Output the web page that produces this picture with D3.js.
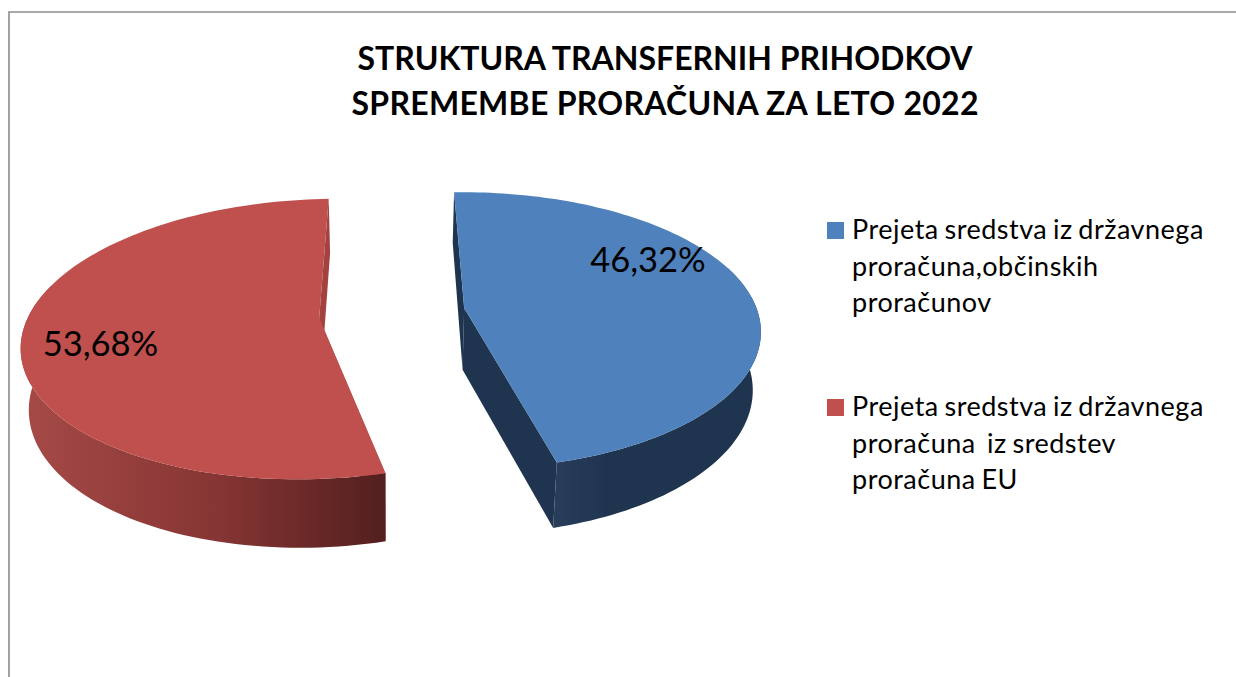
<!DOCTYPE html>
<html>
<head>
<meta charset="utf-8">
<script src="https://cdn.jsdelivr.net/npm/d3@7"></script>
<style>
  html, body { margin: 0; padding: 0; background: #fff; }
  svg { display: block; }
  text { font-family: Lato, "Open Sans", sans-serif; fill: #000; }
</style>
</head>
<body>
<div id="chart"></div>
<script>
// Chart data
const titleLines = ['STRUKTURA TRANSFERNIH PRIHODKOV', 'SPREMEMBE PRORAČUNA ZA LETO 2022'];
const sliceValues = [46.32, 53.68];
const legendLines = [
    ['Prejeta sredstva iz državnega', 'proračuna,občinskih', 'proračunov'],
    ['Prejeta sredstva iz državnega', 'proračuna  iz sredstev', 'proračuna EU']
];
const topColors = ['#4f81bd', '#c0504d'];
const faceColors = ['#1f344f', '#a3423f'];
const wallStops = [
    [[0, '#273d5a'], [0.25, '#1f344f'], [1, '#1f344f']],
    [[0, '#a64a47'], [0.55, '#853533'], [0.77, '#6c2a28'], [1, '#52201f']]
];

const width = 1236;
const height = 677;

const svg = d3.select('#chart')
    .append('svg')
    .attr('width', width)
    .attr('height', height);

// Frame
svg.append('path')
    .attr('d', `M9,${height}V12H${width}`)
    .attr('fill', 'none')
    .attr('stroke', '#8c8c8c')
    .attr('stroke-width', 1.6);

// Title
const titleWidths = [615, 627];
svg.selectAll('.title')
    .data(titleLines)
    .enter()
    .append('text')
    .attr('class', 'title')
    .attr('x', 665)
    .attr('y', (d, i) => 70 + i * 45)
    .attr('text-anchor', 'middle')
    .attr('font-size', 32)
    .attr('font-weight', 700)
    .attr('textLength', (d, i) => titleWidths[i])
    .attr('lengthAdjust', 'spacing')
    .text(d => d);

// Pie projection: tilted disc with a little perspective.
// The two slices don't sit quite the same in the picture, so each has its own settings
const cx = 392, cy = 313;
const rx = 292;
const explode = 0.25;
const shrink = 0.978;
const shear = -0.014;
const sliceView = [
    { ry: 136, persp: 0.163, depth: 57, apexExtra: 5 },
    { ry: 135.7, persp: 0.15, depth: 60, apexExtra: 2 }
];

function project(a, b, bottom, view, extra) {
    const w = 1 / (1 - view.persp * b);
    let x = cx + rx * a * w;
    let y = cy + view.ry * b * w + shear * rx * a * w;
    if (bottom) {
        x = cx + (x - cx) * shrink;
        y += view.depth + 46 * (w - 1) + (extra || 0);
    }
    return [x, y];
}

const pieAngles = d3.pie().sort(null)(sliceValues);

const pies = svg.append('g');

const defs = svg.append('defs');

pieAngles.forEach((slice, i) => {
    const view = sliceView[i];
    const mid = (slice.startAngle + slice.endAngle) / 2;
    const ox = explode * Math.sin(mid);
    const oy = -explode * Math.cos(mid);
    const point = (t, bottom) => project(ox + Math.sin(t), oy - Math.cos(t), bottom, view);
    const apex = bottom => project(ox, oy, bottom, view, view.apexExtra);

    const steps = d3.range(0, 121).map(k => slice.startAngle + (slice.endAngle - slice.startAngle) * k / 120);
    const rimTop = steps.map(t => point(t, false));

    // Only the front part of the wall can be seen
    const frontSteps = steps.filter(t => Math.cos(t) < 0.3);
    const wallTop = frontSteps.map(t => point(t, false));
    const wallBottom = frontSteps.map(t => point(t, true));

    const line = d3.line();

    const xs = wallTop.map(p => p[0]);
    const grad = defs.append('linearGradient')
        .attr('id', 'wall' + i)
        .attr('gradientUnits', 'userSpaceOnUse')
        .attr('x1', d3.min(xs))
        .attr('x2', d3.max(xs))
        .attr('y1', 0)
        .attr('y2', 0);
    wallStops[i].forEach(s => {
        grad.append('stop').attr('offset', s[0]).attr('stop-color', s[1]);
    });

    // Inner faces
    [slice.startAngle, slice.endAngle].forEach(t => {
        pies.append('path')
            .attr('d', line([apex(false), point(t, false), point(t, true), apex(true)]) + 'Z')
            .attr('fill', faceColors[i]);
    });

    // Outer wall
    pies.append('path')
        .attr('d', line(wallTop.concat(wallBottom.slice().reverse())) + 'Z')
        .attr('fill', `url(#wall${i})`);

    // Top surface
    pies.append('path')
        .attr('d', line([apex(false)].concat(rimTop)) + 'Z')
        .attr('fill', topColors[i]);
});

// Data labels
const labelPos = [[648, 272], [100.5, 356]];
svg.selectAll('.value-label')
    .data(sliceValues)
    .enter()
    .append('text')
    .attr('class', 'value-label')
    .attr('x', (d, i) => labelPos[i][0])
    .attr('y', (d, i) => labelPos[i][1])
    .attr('text-anchor', 'middle')
    .attr('font-size', 34.5)
    .text(d => d.toFixed(2).replace('.', ',') + '%');

// Legend
const legendTop = [222, 399];
legendLines.forEach((lines, i) => {
    svg.append('rect')
        .attr('x', 827)
        .attr('y', legendTop[i])
        .attr('width', 17)
        .attr('height', 17)
        .attr('fill', topColors[i]);

    lines.forEach((txt, j) => {
        svg.append('text')
            .attr('x', 852)
            .attr('y', legendTop[i] + 17 + j * 36.5)
            .attr('font-size', 27)
            .attr('letter-spacing', 0.5)
            .attr('word-spacing', -1.7)
            .style('white-space', 'pre')
            .text(txt);
    });
});
</script>
</body>
</html>
